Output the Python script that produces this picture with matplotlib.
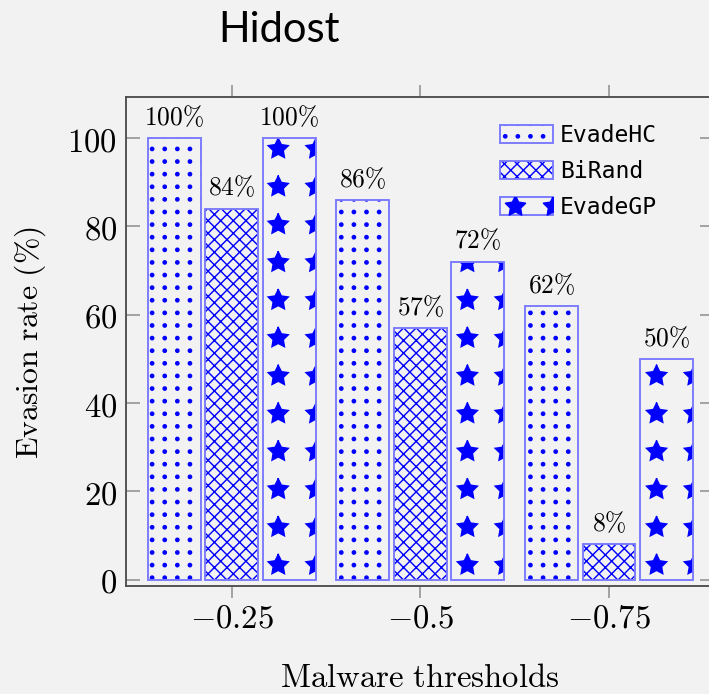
import numpy as np
import matplotlib
matplotlib.use('Agg')
import matplotlib.pyplot as plt
import matplotlib.hatch as mhatch
from matplotlib.colors import to_rgba
from matplotlib.lines import Line2D
from matplotlib.patches import Rectangle
from matplotlib.legend_handler import HandlerPatch

# Datos
umbrales = ['$-0.25$', '$-0.5$', '$-0.75$']
series = ['EvadeHC', 'BiRand', 'EvadeGP']
evade_hc = [100, 86, 62]
bi_rand = [84, 57, 8]
evade_gp = [100, 72, 50]
y_ticks = [0, 20, 40, 60, 80, 100]

DPI = 227
W, H = 709, 694
fondo = '#f2f2f2'
azul = '#0000ff'
borde = '#7a7aff'
FASE = (0.059, 0.0106)   # desplazamiento del patron (fraccion del tile)


# =============================================================================== #
#       Patrones de puntos / estrellas en rejilla (sin filas alternadas)
# =============================================================================== #

def _init_rejilla(self, hatch, density):
    if self.num_rows == 0:
        self.num_shapes = 0
        self.num_vertices = 0
    else:
        self.num_shapes = (self.num_rows + 2) ** 2
        self.num_vertices = (self.num_shapes * len(self.shape_vertices)
                             * (1 if self.filled else 2))


def _formas_rejilla(self, vertices, codes):
    offset = 1.0 / self.num_rows
    shape_vertices = self.shape_vertices * offset * self.size
    shape_codes = self.shape_codes
    if not self.filled:
        shape_vertices = np.concatenate([shape_vertices, shape_vertices[::-1] * 0.9])
        shape_codes = np.concatenate([shape_codes, shape_codes])
    pos = np.arange(-1, self.num_rows + 1) * offset
    partes_v, partes_c = [], []
    for fila in pos + FASE[1] % offset:
        for col in pos + FASE[0] % offset:
            partes_v.append(shape_vertices + [col, fila])
            partes_c.append(shape_codes)
    np.concatenate(partes_v, out=vertices)
    np.concatenate(partes_c, out=codes)


mhatch.Shapes.__init__ = _init_rejilla
mhatch.Shapes.set_vertices_and_codes = _formas_rejilla
mhatch.Stars.size = 0.28
mhatch.SmallFilledCircles.size = 0.13


class HandlerEstrellas(HandlerPatch):
    # rectangulo de leyenda con una estrella entera y otra cortada en el borde
    def create_artists(self, legend, orig_handle, xdescent, ydescent,
                       width, height, fontsize, trans):
        rect = Rectangle((-xdescent, -ydescent), width, height,
                         facecolor=fondo, edgecolor=borde, linewidth=0.6,
                         transform=trans)
        xs = [-xdescent + 0.29 * width, -xdescent + 1.0 * width]
        ys = [-ydescent + height / 2] * 2
        estrellas = Line2D(xs, ys, linestyle='none', marker=(5, 1, 0),
                           markersize=6.9, color=azul, markeredgewidth=0.4,
                           transform=trans)
        estrellas.set_clip_path(rect)
        return [rect, estrellas]


plt.rcParams['mathtext.fontset'] = 'cm'
plt.rcParams['hatch.linewidth'] = 0.45

fig = plt.figure(figsize=(W / DPI, H / DPI), dpi=DPI, facecolor=fondo)
ax = fig.add_axes([126 / W, 108 / H, 588 / W, 489 / H])
ax.set_facecolor(fondo)

x = np.arange(len(umbrales))
ancho = 0.281
paso = 0.305
patrones = ['...', 'xxxxxx', '*']
contenedores = []

for k, (nombre, valores, patron) in enumerate(zip(series, [evade_hc, bi_rand, evade_gp], patrones)):
    pos = x + (k - 1) * paso
    barras = ax.bar(pos, valores, ancho,
                    facecolor=fondo,
                    edgecolor=borde,
                    linewidth=0.6,
                    hatch=patron,
                    label=nombre)
    # color del patron distinto al borde
    for b in barras:
        b._hatch_color = to_rgba(azul)
    contenedores.append(barras)
    for xi, v in zip(pos, valores):
        ax.annotate(f'${v}\\%$', (xi, v), xytext=(0, 2.3), textcoords='offset points',
                    ha='center', va='bottom', fontsize=8.1)

ax.set_xlim(-0.562, 2.557)
ax.set_ylim(-1.4, 109.3)
ax.set_xticks(x, umbrales)
ax.set_yticks(y_ticks, [f'${v}$' for v in y_ticks])

ax.tick_params(axis='y', direction='in', left=True, right=True, length=4.4, width=0.6,
               color='#a0a0a0', pad=2.8, labelsize=10.4)
ax.tick_params(axis='x', direction='out', top=True, bottom=True, length=3.9, width=0.6,
               color='#a0a0a0', pad=0.9, labelsize=10.4)
for s in ax.spines.values():
    s.set_color('#505050')
    s.set_linewidth(0.6)

fig.text(420 / W, (H - 687) / H, r'$\mathrm{Malware\ thresholds}$', fontsize=10.4,
         ha='center', va='baseline')
fig.text(30 / W, (H - 343) / H, r'$\mathrm{Evasion\ rate\ (\%)}$', fontsize=10.1,
         rotation=90, ha='center', va='center')
fig.text(279 / W, (H - 42) / H, 'Hidost', family='Lato', fontsize=13.2,
         ha='center', va='baseline')

leg = ax.legend(handles=contenedores, labels=series,
                handler_map={contenedores[2]: HandlerEstrellas()},
                loc='upper left', bbox_to_anchor=(500 / W, (H - 124) / H),
                bbox_transform=fig.transFigure, frameon=False,
                prop={'family': 'DejaVu Sans Mono', 'size': 7.3},
                handlelength=2.3, handleheight=0.83, handletextpad=0.3,
                labelspacing=0.57, borderpad=0, borderaxespad=0)

fig.savefig('out.png', dpi=DPI, facecolor=fondo)
